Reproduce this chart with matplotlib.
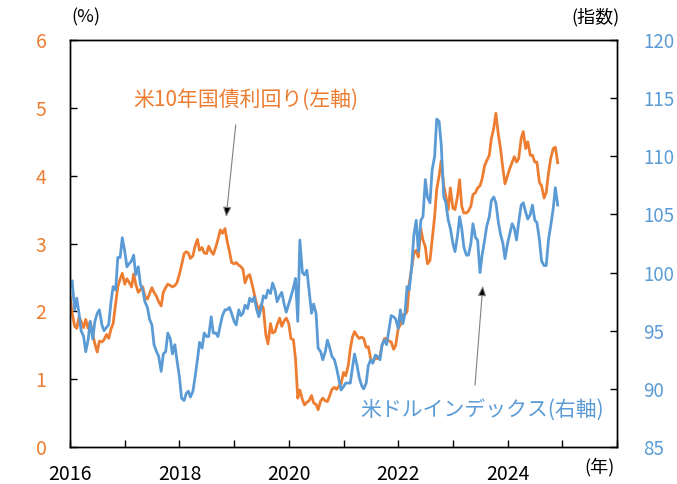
import numpy as np
import pandas as pd
import matplotlib
matplotlib.use("Agg")
import matplotlib.pyplot as plt
import matplotlib.dates as mdates

plt.rcParams['font.family'] = ['Noto Sans CJK JP', 'DejaVu Sans']

ORANGE = '#ED7D31'
BLUE = '#5B9BD5'

# semi-monthly readings (1st and 15th), Jan 2016 - Dec 2024
yield_10y = [
    2.22, 1.98, 1.78, 1.75, 1.92, 1.85, 1.76, 1.88, 1.75, 1.85, 1.66, 1.52,
    1.40, 1.56, 1.55, 1.58, 1.66, 1.60, 1.74, 1.82, 2.12, 2.36, 2.48, 2.56,
    2.40, 2.48, 2.42, 2.36, 2.55, 2.40, 2.28, 2.32, 2.36, 2.22, 2.18, 2.26,
    2.35, 2.28, 2.22, 2.14, 2.08, 2.28, 2.35, 2.40, 2.38, 2.36, 2.38, 2.42,
    2.55, 2.68, 2.85, 2.88, 2.86, 2.78, 2.82, 2.96, 3.06, 2.90, 2.94, 2.86,
    2.85, 2.96, 2.88, 2.84, 2.95, 3.06, 3.20, 3.15, 3.22, 3.04, 2.88, 2.72,
    2.70, 2.72, 2.68, 2.66, 2.62, 2.42, 2.52, 2.54, 2.40, 2.26, 2.10, 2.02,
    2.10, 2.05, 1.65, 1.52, 1.82, 1.68, 1.70, 1.80, 1.90, 1.78, 1.86, 1.90,
    1.82, 1.60, 1.58, 1.30, 0.72, 0.84, 0.70, 0.62, 0.66, 0.68, 0.76, 0.65,
    0.63, 0.55, 0.68, 0.72, 0.68, 0.67, 0.76, 0.85, 0.88, 0.85, 0.90, 0.93,
    1.10, 1.05, 1.20, 1.45, 1.62, 1.70, 1.64, 1.60, 1.62, 1.60, 1.47, 1.48,
    1.30, 1.25, 1.32, 1.30, 1.33, 1.50, 1.60, 1.60, 1.56, 1.55, 1.44, 1.50,
    1.75, 1.80, 1.95, 1.95, 2.00, 2.40, 2.65, 2.85, 2.90, 2.80, 3.22, 3.05,
    2.95, 2.70, 2.75, 3.05, 3.40, 3.80, 4.00, 4.22, 3.85, 3.70, 3.50, 3.82,
    3.52, 3.50, 3.70, 3.94, 3.55, 3.45, 3.45, 3.48, 3.55, 3.72, 3.75, 3.82,
    3.85, 3.95, 4.15, 4.22, 4.30, 4.55, 4.70, 4.92, 4.60, 4.40, 4.10, 3.88,
    4.00, 4.10, 4.20, 4.28, 4.20, 4.25, 4.55, 4.65, 4.40, 4.50, 4.30, 4.30,
    4.20, 4.20, 3.90, 3.85, 3.67, 3.75, 4.05, 4.25, 4.40, 4.42, 4.19,
]

dollar_index = [
    98.8, 99.3, 96.8, 97.8, 96.5, 95.0, 94.5, 93.2, 94.2, 95.8, 94.3, 95.8,
    96.5, 96.8, 95.5, 95.0, 95.3, 95.5, 97.5, 98.8, 98.5, 101.3, 101.3, 103.0,
    101.8, 100.5, 100.8, 101.0, 101.5, 99.8, 100.5, 99.0, 98.5, 97.5, 97.0, 96.0,
    95.5, 93.8, 93.2, 92.8, 91.5, 93.0, 93.2, 94.8, 94.3, 93.0, 93.8, 92.5,
    91.0, 89.2, 89.0, 89.6, 89.8, 89.3, 89.8, 91.0, 92.5, 94.0, 93.5, 94.8,
    94.5, 94.5, 96.2, 94.8, 94.8, 94.5, 95.5, 96.3, 96.8, 96.8, 97.0, 96.5,
    95.8, 95.5, 96.8, 96.3, 96.5, 97.2, 96.9, 97.8, 97.5, 97.9, 96.8, 96.2,
    97.0, 98.0, 97.8, 98.5, 98.2, 99.1, 98.5, 97.5, 98.0, 98.3, 97.3, 96.6,
    97.3, 97.9, 98.7, 99.5, 95.8, 102.8, 100.0, 99.8, 100.2, 98.5, 96.5, 97.3,
    96.5, 93.5, 93.2, 92.5, 93.2, 94.2, 93.5, 92.8, 92.5, 91.8, 90.8, 89.9,
    90.2, 90.5, 90.5, 90.5, 91.8, 93.0, 92.0, 91.0, 90.3, 90.0, 90.5, 92.0,
    92.5, 92.2, 92.9, 92.8, 92.5, 93.8, 94.2, 93.8, 95.2, 96.3, 96.2, 96.0,
    95.2, 96.8, 95.6, 96.5, 98.8, 98.5, 100.5, 103.2, 104.5, 101.8, 104.5, 104.8,
    108.0, 106.5, 106.0, 108.8, 110.0, 113.2, 113.0, 111.0, 106.5, 106.0, 104.5, 103.8,
    102.5, 101.8, 103.2, 104.8, 103.8, 102.2, 101.5, 101.5, 102.5, 104.2, 103.0, 102.8,
    100.0, 101.5, 102.8, 104.0, 104.8, 106.2, 106.5, 106.0, 104.3, 103.3, 102.5, 101.2,
    102.5, 103.3, 104.2, 103.8, 102.8, 104.3, 105.8, 106.0, 105.2, 104.6, 105.0, 105.8,
    104.5, 104.3, 102.8, 101.0, 100.6, 100.6, 102.9, 104.0, 105.5, 107.3, 105.8,
]

dates = pd.date_range('2016-01-01', periods=len(yield_10y), freq='SMS')
year_ticks = list(range(2016, 2027))

fig = plt.figure(figsize=(6.77, 4.84), dpi=100)
ax1 = fig.add_axes([0.1034, 0.0764, 0.808, 0.841])
ax2 = ax1.twinx()

ax1.plot(dates, yield_10y, color=ORANGE, lw=2.0)
ax2.plot(dates, dollar_index, color=BLUE, lw=2.0)

ax1.set_xlim(pd.Timestamp('2016-01-01'), pd.Timestamp('2026-01-01'))
ax1.set_ylim(0, 6)
ax2.set_ylim(85, 120)
ax1.set_yticks(range(0, 7))
ax2.set_yticks(range(85, 121, 5))

ax1.set_xticks([pd.Timestamp(f'{y}-01-01') for y in year_ticks])
ax1.set_xticklabels([str(y) if y % 2 == 0 and y < 2026 else '' for y in year_ticks])

ax1.tick_params(axis='x', direction='in', length=5, width=1, pad=12,
                labelsize=14, colors='black')
ax1.tick_params(axis='y', direction='in', length=5, width=1, pad=17,
                labelsize=14, labelcolor=ORANGE)
ax2.tick_params(axis='y', direction='in', length=5, width=1, pad=19,
                labelsize=13.5, labelcolor=BLUE)
for ax in (ax1, ax2):
    for s in ax.spines.values():
        s.set_linewidth(1.0)
        s.set_color('black')

ax1.text(0.115, 0.853, '米10年国債利回り(左軸)', transform=ax1.transAxes,
         color=ORANGE, fontsize=15, va='center', ha='left')
ax1.annotate('', xy=(0.285, 0.558), xytext=(0.3035, 0.7985),
             xycoords='axes fraction', textcoords='axes fraction',
             arrowprops=dict(arrowstyle='-|>,head_length=0.6,head_width=0.25',
                             lw=0.8, ec='gray', fc='black'))

ax1.text(0.530, 0.091, '米ドルインデックス(右軸)', transform=ax1.transAxes,
         color=BLUE, fontsize=15, va='center', ha='left')
ax1.annotate('', xy=(0.755, 0.403), xytext=(0.740, 0.145),
             xycoords='axes fraction', textcoords='axes fraction',
             arrowprops=dict(arrowstyle='-|>,head_length=0.6,head_width=0.25',
                             lw=0.8, ec='gray', fc='black'))

fig.text(0.127, 0.965, '(%)', fontsize=13, ha='center', va='center')
fig.text(0.879, 0.965, '(指数)', fontsize=13, ha='center', va='center')
fig.text(0.886, 0.035, '(年)', fontsize=13, ha='center', va='center')

fig.savefig('out.png', dpi=100)
